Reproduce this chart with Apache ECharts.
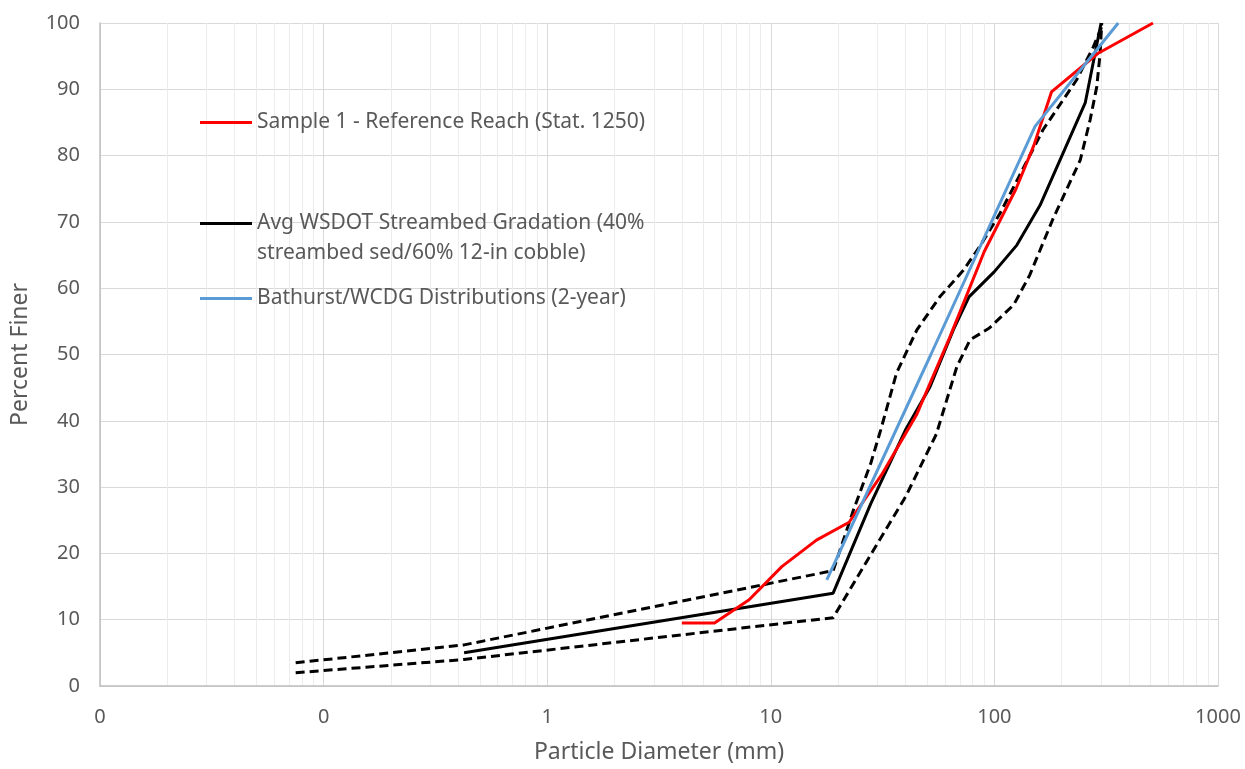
<!DOCTYPE html>
<html><head><meta charset="utf-8">
<script src="https://cdn.jsdelivr.net/npm/echarts@6/dist/echarts.min.js"></script>
<style>html,body{margin:0;padding:0;background:#fff}#c{width:1245px;height:769px}</style>
</head><body><div id="c"></div>
<script>
// ---- data (particle diameter in mm, percent finer) ----
const xTickLabels = ['0', '0', '1', '10', '100', '1000'];
const yTicks = [0, 10, 20, 30, 40, 50, 60, 70, 80, 90, 100];

const sampleName = 'Sample 1 - Reference Reach (Stat. 1250)';
const sampleDiam = [4, 5.6, 8, 11.2, 16, 22.4, 31.5, 45, 63, 90, 125, 150, 180, 290, 512];
const samplePct  = [9.5, 9.5, 13, 18, 22, 24.7, 32, 41, 52.5, 65.5, 75, 81.5, 89.6, 95.4, 100];

const avgName = 'Avg WSDOT Streambed Gradation (40% streambed sed/60% 12-in cobble)';
const avgLine1 = 'Avg WSDOT Streambed Gradation (40%';
const avgLine2 = 'streambed sed/60% 12-in cobble)';
const avgDiam = [0.425, 19, 28, 40, 51.5, 65.5, 77, 100, 126, 160, 255, 300];
const avgPct  = [5, 14, 27.5, 38.6, 45.1, 53.7, 58.7, 62.5, 66.5, 72.5, 88, 100];

const upperName = 'WSDOT Gradation - Fine Limit';
const upperDiam = [0.075, 0.425, 19, 23.4, 28, 31, 36.5, 45, 57, 72.6, 86, 106, 165, 233, 277, 307];
const upperPct  = [3.5, 6.2, 17.4, 26.5, 33.6, 38.6, 47.2, 53.7, 58.7, 62.7, 66.3, 71.3, 83.9, 91.4, 96.4, 100];

const lowerName = 'WSDOT Gradation - Coarse Limit';
const lowerDiam = [0.075, 0.425, 19, 30, 40, 55, 68, 77.8, 95, 122, 144, 183, 242, 268, 287, 297, 302];
const lowerPct  = [2, 4.0, 10.3, 21.5, 28.5, 38, 48.2, 52.2, 54, 57.5, 62, 70.5, 79.3, 85.4, 90.4, 95.4, 100];

const bathName = 'Bathurst/WCDG Distributions (2-year)';
const bathDiam = [17.8, 52, 152, 358];
const bathPct  = [16, 50, 84.4, 100];

// ---- helpers ----
const zip = (xs, ys) => xs.map((x, i) => [x, ys[i]]);
const decades = [0.01, 0.1, 1, 10, 100];
const minorX = [];
decades.forEach(d => { for (let k = 2; k <= 9; k++) minorX.push(+(d * k).toPrecision(3)); });

const FONT = 'Noto Sans';
const TXT = '#595959';

const chart = echarts.init(document.getElementById('c'), null, {renderer: 'canvas'});

const legendBase = {
  orient: 'vertical', left: 200, itemWidth: 52, itemHeight: 3, itemGap: 0, padding: 0,
  icon: 'rect', selectedMode: false, z: 10,
  textStyle: {fontFamily: FONT, fontSize: 21, color: TXT}
};

chart.setOption({
  animation: false,
  backgroundColor: '#fff',
  grid: {left: 100, right: 27, top: 23, bottom: 83, containLabel: false},
  xAxis: {
    type: 'log', logBase: 10, min: 0.01, max: 1000,
    name: 'Particle Diameter (mm)', nameLocation: 'middle', nameGap: 55,
    nameTextStyle: {fontFamily: FONT, fontSize: 23, color: TXT},
    axisLine: {show: true, lineStyle: {color: '#bfbfbf', width: 1.5}},
    axisTick: {show: false},
    axisLabel: {
      fontFamily: FONT, fontSize: 20, color: TXT, margin: 21,
      formatter: v => xTickLabels[Math.round(Math.log10(v)) + 2]
    },
    splitLine: {show: true, lineStyle: {color: '#d9d9d9', width: 1}}
  },
  yAxis: {
    type: 'value', min: 0, max: 100, interval: 10,
    name: 'Percent Finer', nameLocation: 'middle', nameGap: 68,
    nameTextStyle: {fontFamily: FONT, fontSize: 23, color: TXT},
    axisLine: {show: true, lineStyle: {color: '#bfbfbf', width: 1.5}},
    axisTick: {show: false},
    axisLabel: {fontFamily: FONT, fontSize: 20, color: TXT, margin: 20,
      formatter: v => yTicks.includes(v) ? String(v) : ''},
    splitLine: {show: true, lineStyle: {color: '#d9d9d9', width: 1}}
  },
  legend: [
    Object.assign({}, legendBase, {top: 112, data: [sampleName]}),
    Object.assign({}, legendBase, {top: 213, data: [avgName], formatter: () => avgLine1}),
    Object.assign({}, legendBase, {top: 288, data: [bathName]})
  ],
  graphic: [{
    type: 'text', x: 257, y: 253, silent: true, z: 10,
    style: {text: avgLine2, font: '21px "Noto Sans"', fill: TXT, verticalAlign: 'middle', align: 'left'}
  }],
  series: [
    {
      name: 'minor-grid', type: 'line', data: [], z: 0, silent: true,
      markLine: {
        z: 0, silent: true, symbol: ['none', 'none'], label: {show: false}, animation: false,
        lineStyle: {color: '#ececec', width: 1, type: 'solid'},
        emphasis: {disabled: true},
        data: minorX.map(x => ({xAxis: x}))
      }
    },
    {name: lowerName, type: 'line', data: zip(lowerDiam, lowerPct), showSymbol: false, symbol: 'none', z: 5,
      lineStyle: {color: '#000', width: 3, type: [9, 5]}},
    {name: upperName, type: 'line', data: zip(upperDiam, upperPct), showSymbol: false, symbol: 'none', z: 5,
      lineStyle: {color: '#000', width: 3, type: [9, 5]}},
    {name: avgName, type: 'line', data: zip(avgDiam, avgPct), showSymbol: false, symbol: 'none', z: 6,
      itemStyle: {color: '#000'}, lineStyle: {color: '#000', width: 3}},
    {name: sampleName, type: 'line', data: zip(sampleDiam, samplePct), showSymbol: false, symbol: 'none', z: 7,
      itemStyle: {color: '#ff0000'}, lineStyle: {color: '#ff0000', width: 3}},
    {name: bathName, type: 'line', data: zip(bathDiam, bathPct), showSymbol: false, symbol: 'none', z: 8,
      itemStyle: {color: '#5b9bd5'}, lineStyle: {color: '#5b9bd5', width: 3}}
  ]
});
</script>
</body></html>
